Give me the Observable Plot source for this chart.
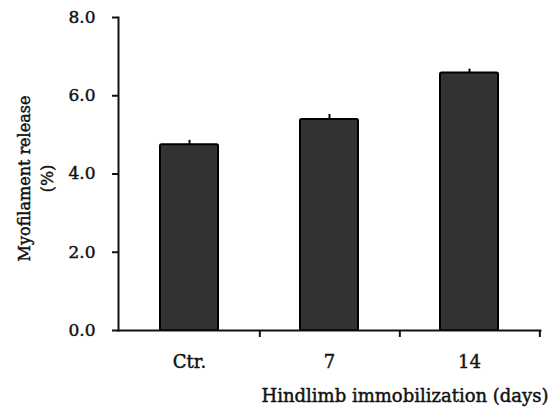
<!DOCTYPE html>
<html>
<head>
<meta charset="utf-8">
<script src="https://cdn.jsdelivr.net/npm/d3@7"></script>
<script src="https://cdn.jsdelivr.net/npm/@observablehq/plot@0.6"></script>
<style>
  html, body { margin: 0; padding: 0; background: #fff; }
  #chart svg { font-family: "DejaVu Serif", "Liberation Serif", serif; }
  #chart svg text { stroke: #111; stroke-width: 0.45px; fill: #111; }
</style>
</head>
<body>
<div id="chart"></div>
<script>
const categories = ["Ctr.", "7", "14"];
const values = [4.75, 5.39, 6.58];
const errors = [0.11, 0.13, 0.10];
const yTicks = [0, 2, 4, 6, 8];
const yLabel = "Myofilament release\n(%)";
const xLabel = "Hindlimb immobilization (days)";

const data = categories.map((c, i) => ({cat: c, value: values[i], err: values[i] + errors[i]}));

const W = 553, H = 414;
const mL = 118, mR = 13, mT = 17, mB = 84;
const step = (W - mL - mR) / categories.length;

const chart = Plot.plot({
  width: W,
  height: H,
  marginLeft: mL,
  marginRight: mR,
  marginTop: mT,
  marginBottom: mB,
  style: {fontSize: "17px", fontFamily: "DejaVu Serif, serif", color: "#111"},
  x: {domain: categories, paddingInner: 0.588, paddingOuter: 0.294, label: null},
  y: {domain: [0, 8], label: null},
  marks: [
    Plot.barY(data, {x: "cat", y: "value", fill: "#333333", stroke: "#000", strokeWidth: 2, rx: 1.5}),
    Plot.ruleX(data, {x: "cat", y1: "value", y2: "err", stroke: "#000", strokeWidth: 2}),
    Plot.axisY({ticks: yTicks, tickFormat: d3.format(".1f"), tickSize: 6, tickPadding: 17, strokeWidth: 2, fontSize: 17, letterSpacing: "0.5px", label: null}),
    Plot.axisX({tickSize: 0, tickPadding: 25, fontSize: 18, label: null}),
    Plot.axisX({tickSize: 7, text: null, dx: step / 2, strokeWidth: 2, label: null}),
    Plot.frame({anchor: "left", strokeWidth: 2}),
    Plot.frame({anchor: "bottom", strokeWidth: 2}),
    Plot.text([yLabel], {frameAnchor: "left", textAnchor: "middle", rotate: -90, dx: -84.5, dy: 4.5, fontSize: 16, lineHeight: 1.44}),
    Plot.text([xLabel], {frameAnchor: "bottom-right", textAnchor: "end", dx: 8, dy: 71.5, fontSize: 18})
  ]
});
document.getElementById("chart").appendChild(chart);
</script>
</body>
</html>
